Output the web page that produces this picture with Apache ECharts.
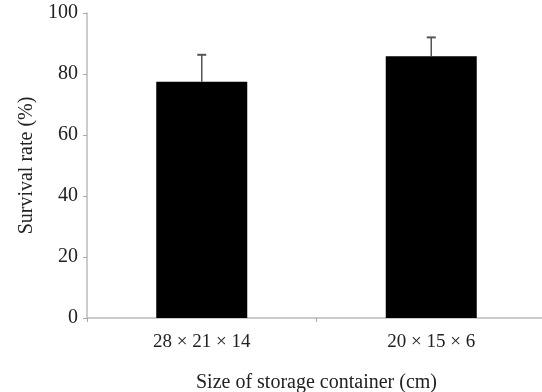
<!DOCTYPE html>
<html><head><meta charset="utf-8">
<script src="https://cdn.jsdelivr.net/npm/echarts@6/dist/echarts.min.js"></script>
<style>html,body{margin:0;padding:0;background:#fff}#c{width:542px;height:392px}</style>
</head><body><div id="c"></div>
<script>
const categories = ['28 \u00d7 21 \u00d7 14', '20 \u00d7 15 \u00d7 6'];
const survival = [77.5, 85.8];
const errorUpper = [86.3, 92.0];
const yTicks = [0, 20, 40, 60, 80, 100];

const chart = echarts.init(document.getElementById('c'));
const font = 'Liberation Serif, Times New Roman, serif';
chart.setOption({
  animation: false,
  grid: {left: 87, top: 13, bottom: 74, right: -4, containLabel: false, outerBoundsMode: 'none'},
  xAxis: {
    type: 'category', data: categories,
    axisLine: {lineStyle: {color: '#bbb', width: 1.5}},
    axisTick: {show: true, length: 4, lineStyle: {color: '#aaa'}},
    axisLabel: {color: '#222', fontFamily: font, fontSize: 19, margin: 15},
    name: 'Size of storage container (cm)', nameLocation: 'middle', nameGap: 55,
    nameTextStyle: {color: '#222', fontFamily: font, fontSize: 20}
  },
  yAxis: {
    type: 'value', min: 0, max: 100, interval: 20,
    axisLine: {show: true, lineStyle: {color: '#bbb', width: 1.5}},
    axisTick: {show: true, length: 4, lineStyle: {color: '#aaa'}},
    splitLine: {show: false},
    axisLabel: {color: '#222', fontFamily: font, fontSize: 20, margin: 9,
      formatter: v => yTicks.includes(v) ? String(v) : ''},
    name: 'Survival rate (%)', nameLocation: 'middle', nameGap: 50,
    nameTextStyle: {color: '#222', fontFamily: font, fontSize: 20}
  },
  series: [
    {type: 'bar', data: survival, barWidth: 91, itemStyle: {color: '#000'}, z: 2},
    {
      type: 'custom', z: 3,
      data: survival.map((v, i) => [i, v, errorUpper[i]]),
      renderItem: function (params, api) {
        const base = api.coord([api.value(0), api.value(1)]);
        const top = api.coord([api.value(0), api.value(2)]);
        const hw = 4.5;
        return {type: 'group', children: [
          {type: 'line', shape: {x1: base[0], y1: base[1], x2: top[0], y2: top[1]},
           style: {stroke: '#555', lineWidth: 1.5}},
          {type: 'line', shape: {x1: top[0] - hw, y1: top[1], x2: top[0] + hw, y2: top[1]},
           style: {stroke: '#555', lineWidth: 2}}
        ]};
      }
    }
  ]
});
</script></body></html>
